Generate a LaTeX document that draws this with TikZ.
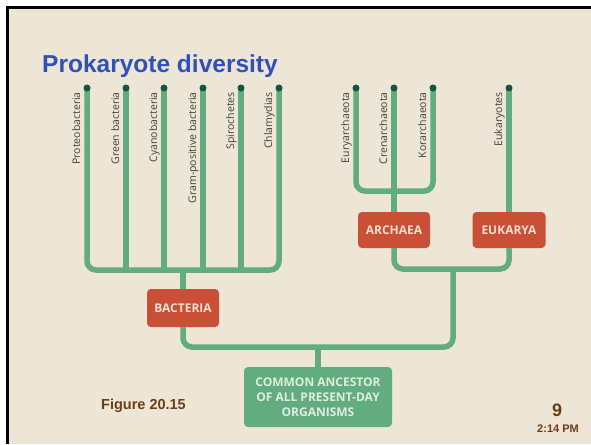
\documentclass[tikz,border=0pt]{standalone}
\usepackage{fontspec}
\setmainfont{Liberation Sans}
\newfontfamily\treefont{Open Sans}
\usetikzlibrary{positioning}
\definecolor{fond}{RGB}{237,229,213}
\definecolor{branche}{RGB}{98,172,128}
\definecolor{pointe}{RGB}{22,84,64}
\definecolor{rouille}{RGB}{201,79,54}
\definecolor{titre}{RGB}{48,80,186}
\definecolor{brun}{RGB}{110,60,20}
\definecolor{gris}{RGB}{70,64,58}
\definecolor{pale}{RGB}{246,224,208}
\definecolor{menthe}{RGB}{220,238,224}
\begin{document}
\begin{tikzpicture}[x=1pt,y=-1pt,
  br/.style={line width=5.5pt,branche,rounded corners=9pt},
  tip/.style={circle,fill=pointe,inner sep=0pt,minimum size=7pt},
  taxon/.style={rotate=90,anchor=base east,text=gris,inner sep=0pt,font=\treefont\fontsize{10.5}{10.5}\selectfont},
  regne/.style={fill=rouille,rounded corners=4pt,text=pale,inner sep=0pt,minimum width=72pt,minimum height=36pt,font=\treefont\bfseries\fontsize{12}{12}\selectfont},
  ecrit/.style={inner sep=0pt,anchor=base,text=brun,font=\bfseries}]
\useasboundingbox (0,0) rectangle (591,444);
\fill [white] (0,0) rectangle (591,444);
\fill [fond] (7.5,7.5) rectangle (591,444);
\draw [line width=3pt] (7.5,444) -- (7.5,7.5) -- (591,7.5);
% title
\node [inner sep=0pt,anchor=base west,text=titre,font=\bfseries\fontsize{24.5}{24.5}\selectfont] (titre) at (42,73) {Prokaryote diversity};
% boxes
\node [regne,minimum height=38pt] (bac) at (183,308) {BACTERIA};
\node [regne] (arc) at (394,230) {ARCHAEA};
\node [regne,minimum width=73pt] (euk) at (509,230) {EUKARYA};
\node [regne,fill=branche,text=menthe,minimum width=148pt,minimum height=60pt,align=center,font=\treefont\bfseries\fontsize{12}{15}\selectfont] (anc) at (318,397) {COMMON ANCESTOR\\OF ALL PRESENT-DAY\\ORGANISMS};
% tips
\coordinate (pro) at (87,88);
\coordinate (gre) at (126,88);
\coordinate (cya) at (164,88);
\coordinate (gra) at (203,88);
\coordinate (spi) at (241,88);
\coordinate (chl) at (279,88);
\coordinate (eur) at (356,88);
\coordinate (cre) at (394,88);
\coordinate (kor) at (433,88);
\coordinate (eka) at (509,88);
\coordinate (bbar) at (183,270);
\coordinate (abar) at (394,191);
\coordinate (fork) at (453,269);
\coordinate (base) at (318,347);
% branches
\draw [br] (pro) |- (bbar) -| (chl);
\draw [br] (gre) -- (gre |- bbar);
\draw [br] (cya) -- (cya |- bbar);
\draw [br] (gra) -- (gra |- bbar);
\draw [br] (spi) -- (spi |- bbar);
\draw [br] (bbar) -- (bac.north);
\draw [br] (eur) |- (abar) -| (kor);
\draw [br] (cre) -- (arc.north);
\draw [br] (eka) -- (euk.north);
\draw [br] (bac.south) |- (base) -| (fork);
\draw [br] (arc.south) |- (fork) -| (euk.south);
\draw [br] (base) -- (anc.north);
\foreach \t in {pro,gre,cya,gra,spi,chl,eur,cre,kor,eka}
  \node [tip] at (\t) {};
% names
\node [taxon] (lpro) at (80,92) {Proteobacteria};
\node [taxon] (lgre) at (119,92) {Green bacteria};
\node [taxon] (lcya) at (157,92) {Cyanobacteria};
\node [taxon] (lgra) at (196,92) {Gram-positive bacteria};
\node [taxon] (lspi) at (234,92) {Spirochetes};
\node [taxon] (lchl) at (272,92) {Chlamydias};
\node [taxon] (leur) at (349,92) {Euryarchaeota};
\node [taxon] (lcre) at (387,92) {Crenarchaeota};
\node [taxon] (lkor) at (426,92) {Korarchaeota};
\node [taxon] (leka) at (502,92) {Eukaryotes};
% footer
\node [ecrit,anchor=base west,font=\bfseries\fontsize{14.5}{14.5}\selectfont] (fig) at (101,409) {Figure 20.15};
\node [ecrit,font=\bfseries\fontsize{18}{18}\selectfont] (num) at (557,416) {9};
\node [ecrit,font=\bfseries\fontsize{11}{11}\selectfont] (heure) at (558,432) {2:14 PM};
\end{tikzpicture}
\end{document}
